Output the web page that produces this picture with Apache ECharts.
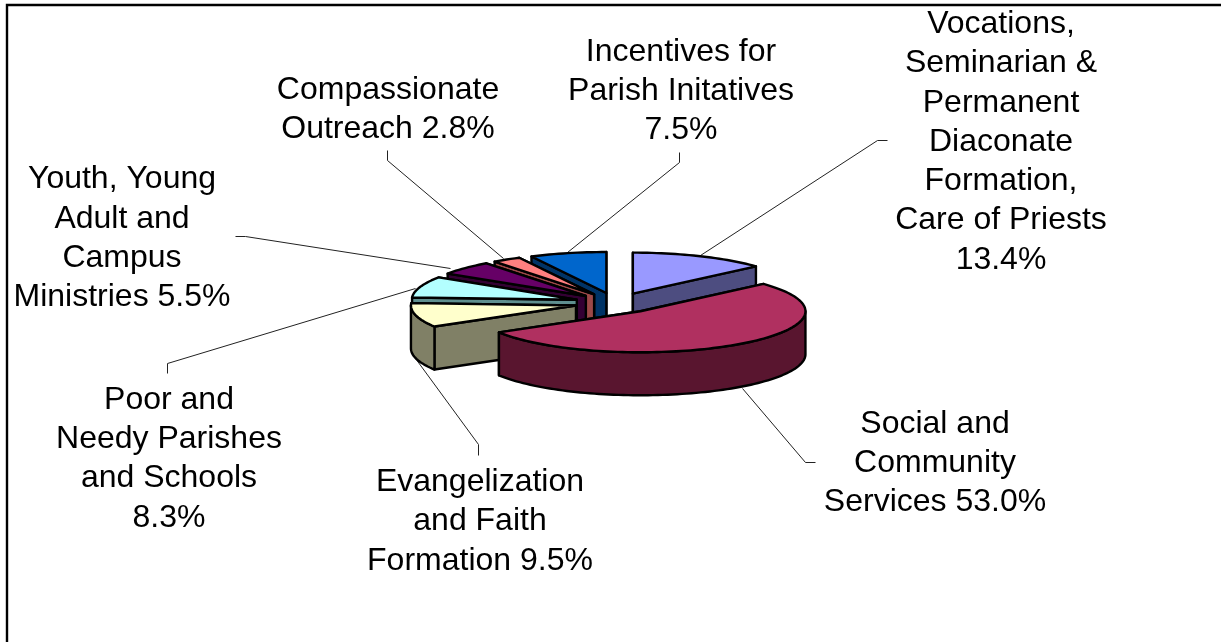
<!DOCTYPE html>
<html>
<head>
<meta charset="utf-8">
<style>html,body{margin:0;padding:0;background:#fff}#c{width:1221px;height:642px}</style>
<script src="https://cdn.jsdelivr.net/npm/echarts@6/dist/echarts.min.js"></script>
</head>
<body>
<div id="c"></div>
<script>
// ---- data ----
var categories = [
  'Vocations,\nSeminarian &\nPermanent\nDiaconate\nFormation,\nCare of Priests\n',
  'Social and\nCommunity\nServices ',
  'Evangelization\nand Faith\nFormation ',
  'Poor and\nNeedy Parishes\nand Schools\n',
  'Youth, Young\nAdult and\nCampus\nMinistries ',
  'Compassionate\nOutreach ',
  'Incentives for\nParish Initatives\n'
];
var values = [13.4, 53.0, 9.5, 8.3, 5.5, 2.8, 7.5];

// ---- styles / layout ----
var topColors  = ['#9999FF', '#B03060', '#FFFFCC', '#B3FFFF', '#660066', '#FF8080', '#0066CC'];
var sideColors = ['#4D4D80', '#59152F', '#808066', '#5F8F8F', '#330033', '#9C4848', '#003366'];
var paintOrder = [0, 6, 5, 4, 3, 2, 1];
var pie = {cx: 616, cy: 303, rx: 165, ry: 41, depth: 43, explode: 0.25};
var labelCenters = [[1001, 142], [935, 463], [480, 521.5], [169, 459], [122, 238.5], [388, 109.5], [681, 91]];
var leaderLines = [
  [[700.5, 255.5], [877.5, 140.5], [887.5, 140.5]],
  [[742.5, 388.5], [805.5, 462.5], [815.5, 462.5]],
  [[415.5, 358.5], [478.5, 444.5], [478.5, 455.5]],
  [[415.5, 288.5], [167.5, 363.5], [167.5, 373.5]],
  [[450.5, 268.5], [245.5, 236.5], [235.5, 236.5]],
  [[503.5, 258.5], [387.5, 160.5], [387.5, 150.5]],
  [[567.5, 252.5], [679.5, 162.5], [679.5, 152.5]]
];

var total = values.reduce(function (a, b) { return a + b; }, 0);
var starts = [], acc = 0;
values.forEach(function (v) { starts.push(acc / total * 2 * Math.PI); acc += v; });

function renderSlice(params, api) {
  var i = api.value(0), rank = params.dataIndex;
  var a0 = starts[i], a1 = a0 + values[i] / total * 2 * Math.PI, mid = (a0 + a1) / 2;
  var ox = pie.cx + pie.explode * pie.rx * Math.sin(mid);
  var oy = pie.cy - pie.explode * pie.ry * Math.cos(mid);
  function pt(a, dz) { return [ox + pie.rx * Math.sin(a), oy - pie.ry * Math.cos(a) + (dz || 0)]; }
  function arc(from, to, dz) {
    var n = Math.max(2, Math.ceil(Math.abs(to - from) / 0.03)), out = [];
    for (var k = 0; k <= n; k++) out.push(pt(from + (to - from) * k / n, dz));
    return out;
  }
  function poly(points, fill, k) {
    return {
      type: 'polygon', z2: rank * 10 + k,
      shape: {points: points},
      style: {fill: fill, stroke: '#000', lineWidth: 2.4, lineJoin: 'round'}
    };
  }
  var o = [ox, oy], ob = [ox, oy + pie.depth], children = [];
  // far radial face, near radial face, outer rim, then top
  children.push(poly([o, pt(a1), pt(a1, pie.depth), ob], sideColors[i], 0));
  children.push(poly([o, pt(a0), pt(a0, pie.depth), ob], sideColors[i], 1));
  var f0 = Math.max(a0, Math.PI / 2), f1 = Math.min(a1, Math.PI * 3 / 2);
  if (f1 > f0) {
    children.push(poly(arc(f0, f1, 0).concat(arc(f1, f0, pie.depth)), sideColors[i], 2));
  }
  children.push(poly([o].concat(arc(a0, a1, 0)), topColors[i], 3));
  return {type: 'group', children: children};
}

var graphics = [
  {type: 'polyline', z: 1, shape: {points: [[7, 642], [7, 5], [1221, 5]]},
   style: {fill: null, stroke: '#000', lineWidth: 2.4}}
];
leaderLines.forEach(function (pts) {
  graphics.push({type: 'polyline', z: 1, shape: {points: pts},
    style: {fill: null, stroke: '#222', lineWidth: 1}});
});
categories.forEach(function (name, i) {
  graphics.push({type: 'text', z: 5, x: labelCenters[i][0], y: labelCenters[i][1],
    style: {text: name + values[i].toFixed(1) + '%',
      fontFamily: '"Liberation Sans", Arial, sans-serif', fontSize: 32, lineHeight: 39.3,
      fill: '#000', align: 'center', verticalAlign: 'middle'}});
});

var chart = echarts.init(document.getElementById('c'), null, {renderer: 'canvas'});
chart.setOption({
  animation: false,
  backgroundColor: '#fff',
  graphic: graphics,
  series: [{
    type: 'custom',
    coordinateSystem: 'none',
    renderItem: renderSlice,
    silent: true,
    data: paintOrder.map(function (i) { return [i, values[i]]; })
  }]
});
</script>
</body>
</html>
